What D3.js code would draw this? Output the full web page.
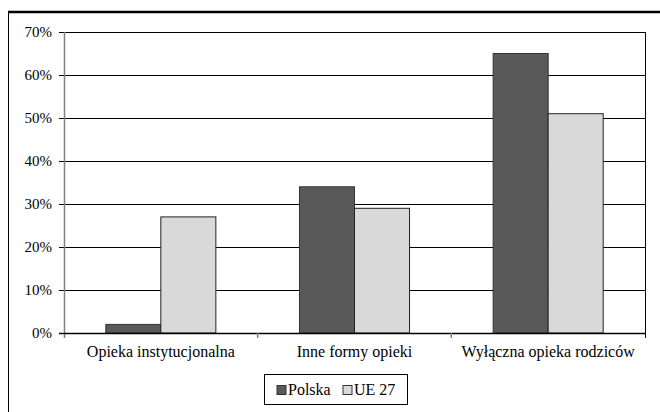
<!DOCTYPE html>
<html>
<head>
<meta charset="utf-8">
<script src="https://cdnjs.cloudflare.com/ajax/libs/d3/7.8.5/d3.min.js"></script>
<style>
svg text { font-family: 'Liberation Serif', 'Times New Roman', serif !important; }
</style>
</head>
<body style="margin:0">
<script>
var categories = ["Opieka instytucjonalna", "Inne formy opieki", "Wyłączna opieka rodziców"];
var seriesNames = ["Polska", "UE 27"];
var polska = [2, 34, 65];
var ue27 = [27, 29, 51];
var yTicks = [0, 10, 20, 30, 40, 50, 60, 70];

var svgWidth = 660;
var svgHeight = 412;
var margin = { top: 32, right: 15, bottom: 79, left: 64 };
var width = svgWidth - margin.left - margin.right;
var height = svgHeight - margin.top - margin.bottom;

var colors = ["#595959", "#d9d9d9"];
var serifStyle = "font-family: 'Liberation Serif', 'Times New Roman', serif !important; font-size: ";

var svg = d3.select("body")
  .append("svg")
  .attr("width", svgWidth)
  .attr("height", svgHeight);

// outer frame
svg.append("line").attr("x1", 8).attr("x2", 660).attr("y1", 12).attr("y2", 12)
  .attr("stroke", "#000").attr("stroke-width", 2.5);
svg.append("line").attr("x1", 8.5).attr("x2", 8.5).attr("y1", 12).attr("y2", 412)
  .attr("stroke", "#000").attr("stroke-width", 1);

var g = svg.append("g")
  .attr("transform", "translate(" + margin.left + "," + margin.top + ")");

var x = d3.scaleBand().domain(categories).range([0, width]);
var x1 = d3.scaleBand().domain(seriesNames).range([0, x.bandwidth()])
  .paddingOuter(0.76).paddingInner(0);
var y = d3.scaleLinear().domain([0, 70]).range([height, 0]);

// gridlines
g.selectAll(".grid")
  .data(yTicks)
  .enter()
  .append("line")
  .attr("x1", -5)
  .attr("x2", width)
  .attr("y1", d => Math.round(y(d)) + 0.5)
  .attr("y2", d => Math.round(y(d)) + 0.5)
  .attr("stroke", "#000");

// right border of plot
g.append("line").attr("x1", width + 0.5).attr("x2", width + 0.5)
  .attr("y1", y(70)).attr("y2", height + 5).attr("stroke", "#000");

// y axis line
g.append("line").attr("x1", 0.5).attr("x2", 0.5)
  .attr("y1", y(70)).attr("y2", height + 5).attr("stroke", "#808080").attr("stroke-width", 1.5);

// y labels
g.selectAll(".ylab")
  .data(yTicks)
  .enter()
  .append("text")
  .attr("x", -12)
  .attr("y", d => y(d))
  .attr("dy", "0.35em")
  .attr("text-anchor", "end")
  .attr("style", serifStyle + "15px")
  .text(d => d + "%");

// bars
var rows = categories.map(function(c, i) {
  return { cat: c, values: [{ s: seriesNames[0], v: polska[i] }, { s: seriesNames[1], v: ue27[i] }] };
});

var groups = g.selectAll(".grp")
  .data(rows)
  .enter()
  .append("g")
  .attr("transform", d => "translate(" + x(d.cat) + ",0)");

groups.selectAll("rect")
  .data(d => d.values)
  .enter()
  .append("rect")
  .attr("x", d => x1(d.s))
  .attr("y", d => y(d.v))
  .attr("width", x1.bandwidth())
  .attr("height", d => height - y(d.v))
  .attr("fill", (d, i) => colors[i])
  .attr("stroke", (d, i) => i == 0 ? "#333" : "#222");

// x baseline
g.append("line").attr("x1", -5).attr("x2", width).attr("y1", height + 0.5).attr("y2", height + 0.5)
  .attr("stroke", "#000").attr("stroke-width", 1.5);

// x ticks between groups
g.selectAll(".xtick")
  .data(categories.slice(1))
  .enter()
  .append("line")
  .attr("x1", d => x(d)).attr("x2", d => x(d))
  .attr("y1", height).attr("y2", height + 5)
  .attr("stroke", "#808080").attr("stroke-width", 1.5);

// category labels
g.selectAll(".xlab")
  .data(categories)
  .enter()
  .append("text")
  .attr("x", d => x(d) + x.bandwidth() / 2)
  .attr("y", height + 24)
  .attr("text-anchor", "middle")
  .attr("style", serifStyle + "16px")
  .text(d => d);

// legend
var legend = svg.append("g").attr("transform", "translate(264,374)");
legend.append("rect").attr("x", 0.5).attr("y", 0.5).attr("width", 143).attr("height", 30)
  .attr("fill", "#fff").attr("stroke", "#000");
var legX = [13, 79];
seriesNames.forEach(function(s, i) {
  legend.append("rect").attr("x", legX[i]).attr("y", 11.5).attr("width", 9).attr("height", 9)
    .attr("fill", colors[i]).attr("stroke", "#333");
  legend.append("text").attr("x", legX[i] + 11).attr("y", 21)
    .attr("style", serifStyle + "16px").text(s);
});
</script>
</body>
</html>
